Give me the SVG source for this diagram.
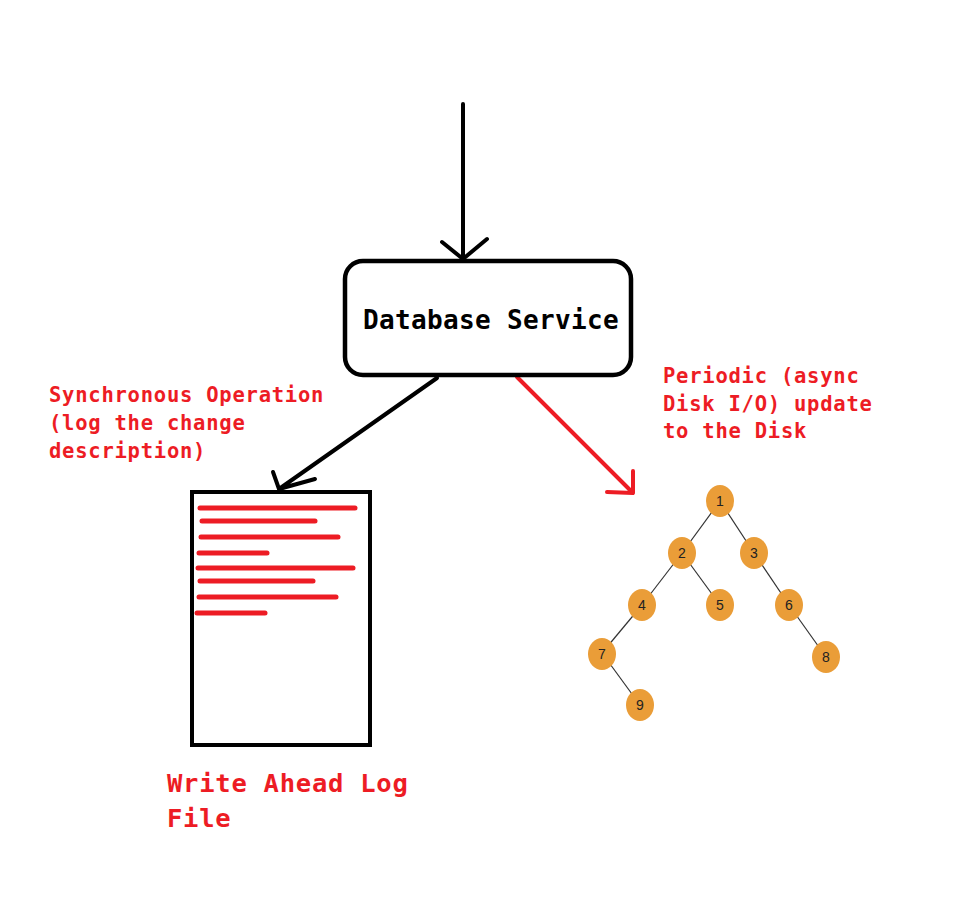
<svg xmlns="http://www.w3.org/2000/svg" width="967" height="913" viewBox="0 0 967 913">
<style>
.blk{stroke:#000;stroke-width:4;fill:none;stroke-linecap:round;stroke-linejoin:round}
.red{stroke:#ED1C24;stroke-width:4;fill:none;stroke-linecap:round;stroke-linejoin:round}
.rl{stroke:#ED1C24;stroke-width:5;stroke-linecap:round}
.lbl{font-family:"DejaVu Sans Mono","Liberation Mono",monospace;font-weight:bold;fill:#ED1C24;font-size:20.5px;letter-spacing:0.76px}
.big{font-family:"DejaVu Sans Mono","Liberation Mono",monospace;font-weight:bold;fill:#ED1C24;font-size:25.5px;letter-spacing:0.75px}
.edge{stroke:#333;stroke-width:1.2}
.nd{fill:#EA9D38}
.nt{font-family:"Liberation Sans Narrow","Liberation Sans",sans-serif;font-size:14px;fill:#222;text-anchor:middle}
</style>
<rect width="967" height="913" fill="#fff"/>
<g id="connectors">
<path class="blk" d="M463,104 L463,258 M442,242 L463,259 L487,239"/>
<path class="blk" d="M437,378 L279,489 M273,472 L279,489 L315,479"/>
<path class="red" d="M517,377 L633,493 M607,492 L633,493 L633,471"/>
</g>
<g id="database-service">
<rect x="345" y="261" width="286" height="114" rx="18" ry="18" fill="#fff" stroke="#000" stroke-width="4.5"/>
<text x="363" y="329" font-family="DejaVu Sans Mono,Liberation Mono,monospace" font-weight="bold" font-size="26" letter-spacing="0.35" fill="#000">Database Service</text>
</g>
<g id="sync-label">
<text class="lbl" x="49" y="402">Synchronous Operation</text>
<text class="lbl" x="49" y="430">(log the change</text>
<text class="lbl" x="49" y="458">description)</text>
</g>
<g id="async-label">
<text class="lbl" x="663" y="383">Periodic (async</text>
<text class="lbl" x="663" y="411">Disk I/O) update</text>
<text class="lbl" x="663" y="438">to the Disk</text>
</g>
<g id="wal-file">
<rect x="192" y="492" width="178" height="253" fill="#fff" stroke="#000" stroke-width="4"/>
<line class="rl" x1="200" y1="508" x2="355" y2="508"/>
<line class="rl" x1="202" y1="521" x2="315" y2="521"/>
<line class="rl" x1="201" y1="537" x2="338" y2="537"/>
<line class="rl" x1="199" y1="553" x2="267" y2="553"/>
<line class="rl" x1="198" y1="568" x2="353" y2="568"/>
<line class="rl" x1="200" y1="581" x2="313" y2="581"/>
<line class="rl" x1="199" y1="597" x2="336" y2="597"/>
<line class="rl" x1="197" y1="613" x2="265" y2="613"/>
</g>
<g id="wal-label">
<text class="big" x="167" y="792">Write Ahead Log</text>
<text class="big" x="167" y="827">File</text>
</g>
<g id="tree">
<g id="tree-edges">
<line class="edge" x1="720" y1="501" x2="682" y2="553"/>
<line class="edge" x1="720" y1="501" x2="754" y2="553"/>
<line class="edge" x1="682" y1="553" x2="642" y2="605"/>
<line class="edge" x1="682" y1="553" x2="720" y2="605"/>
<line class="edge" x1="754" y1="553" x2="789" y2="605"/>
<line class="edge" x1="642" y1="605" x2="602" y2="653"/>
<line class="edge" x1="789" y1="605" x2="826" y2="657"/>
<line class="edge" x1="602" y1="653" x2="640" y2="705"/>
</g>
<g id="n1"><ellipse class="nd" cx="720" cy="501" rx="14" ry="16"/><text class="nt" x="720" y="506">1</text></g>
<g id="n2"><ellipse class="nd" cx="682" cy="553" rx="14" ry="16"/><text class="nt" x="682" y="558">2</text></g>
<g id="n3"><ellipse class="nd" cx="754" cy="553" rx="14" ry="16"/><text class="nt" x="754" y="558">3</text></g>
<g id="n4"><ellipse class="nd" cx="642" cy="605" rx="14" ry="16"/><text class="nt" x="642" y="610">4</text></g>
<g id="n5"><ellipse class="nd" cx="720" cy="605" rx="14" ry="16"/><text class="nt" x="720" y="610">5</text></g>
<g id="n6"><ellipse class="nd" cx="789" cy="605" rx="14" ry="16"/><text class="nt" x="789" y="610">6</text></g>
<g id="n7"><ellipse class="nd" cx="602" cy="654" rx="14" ry="16"/><text class="nt" x="602" y="659">7</text></g>
<g id="n8"><ellipse class="nd" cx="826" cy="657" rx="14" ry="16"/><text class="nt" x="826" y="662">8</text></g>
<g id="n9"><ellipse class="nd" cx="640" cy="705" rx="14" ry="16"/><text class="nt" x="640" y="710">9</text></g>
</g>
</svg>
